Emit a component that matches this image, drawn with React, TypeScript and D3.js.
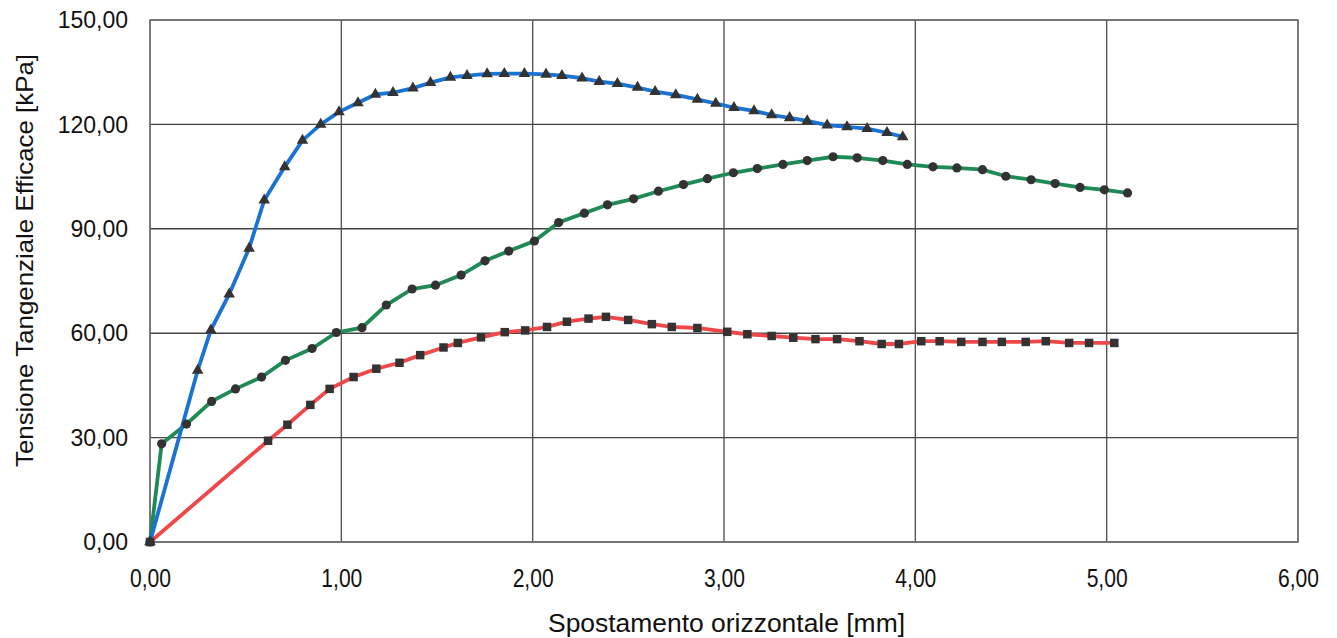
import React from "react";
import * as d3 from "d3";

const blueX = [0, 0.249, 0.318, 0.414, 0.518, 0.597, 0.704, 0.797, 0.892, 0.988, 1.087, 1.178, 1.27, 1.374, 1.466, 1.57, 1.657, 1.762, 1.852, 1.957, 2.07, 2.153, 2.258, 2.348, 2.443, 2.548, 2.64, 2.748, 2.861, 2.957, 3.052, 3.157, 3.249, 3.343, 3.435, 3.539, 3.643, 3.748, 3.852, 3.934];
const blueY = [0, 49.3, 60.9, 71.2, 84.4, 98.2, 107.8, 115.4, 120.0, 123.6, 126.2, 128.6, 129.1, 130.4, 132.0, 133.5, 134.0, 134.5, 134.6, 134.6, 134.4, 134.0, 133.3, 132.3, 131.7, 130.6, 129.4, 128.5, 127.2, 126.0, 124.8, 123.9, 122.7, 121.9, 121.0, 119.8, 119.3, 118.8, 117.6, 116.4];

const greenX = [0, 0.061, 0.191, 0.322, 0.447, 0.583, 0.708, 0.847, 0.974, 1.108, 1.235, 1.37, 1.492, 1.626, 1.751, 1.875, 2.009, 2.136, 2.27, 2.391, 2.527, 2.657, 2.788, 2.913, 3.049, 3.174, 3.308, 3.435, 3.57, 3.696, 3.83, 3.958, 4.092, 4.217, 4.351, 4.473, 4.605, 4.731, 4.861, 4.988, 5.109];
const greenY = [0, 28.2, 33.9, 40.4, 44.0, 47.4, 52.2, 55.6, 60.2, 61.6, 68.1, 72.7, 73.8, 76.7, 80.8, 83.6, 86.5, 91.8, 94.5, 96.9, 98.6, 100.8, 102.7, 104.4, 106.1, 107.3, 108.5, 109.6, 110.7, 110.4, 109.6, 108.5, 107.8, 107.5, 107.0, 105.1, 104.1, 103.0, 101.9, 101.2, 100.3];

const redX = [0, 0.617, 0.718, 0.838, 0.939, 1.064, 1.183, 1.304, 1.412, 1.534, 1.609, 1.73, 1.854, 1.961, 2.075, 2.179, 2.292, 2.383, 2.499, 2.623, 2.727, 2.861, 3.017, 3.122, 3.249, 3.362, 3.478, 3.591, 3.708, 3.824, 3.914, 4.031, 4.127, 4.24, 4.351, 4.452, 4.577, 4.682, 4.804, 4.908, 5.04];
const redY = [0, 29.1, 33.7, 39.4, 44.0, 47.4, 49.8, 51.5, 53.7, 55.9, 57.2, 58.8, 60.3, 60.8, 61.8, 63.3, 64.2, 64.7, 63.8, 62.6, 61.8, 61.5, 60.4, 59.7, 59.2, 58.7, 58.3, 58.3, 57.7, 56.9, 56.9, 57.7, 57.7, 57.5, 57.5, 57.5, 57.5, 57.7, 57.2, 57.2, 57.2];

const xTicks = [0, 1, 2, 3, 4, 5, 6];
const yTicks = [0, 30, 60, 90, 120, 150];

const fmt = (v: number) => v.toFixed(2).replace(".", ",");

export default function App() {
  const W = 1337, H = 638;
  const x = d3.scaleLinear().domain([0, 6]).range([150, 1298]);
  const y = d3.scaleLinear().domain([0, 150]).range([542, 20]);
  const line = d3.line<[number, number]>().x(d => x(d[0])).y(d => y(d[1]));
  const zip = (a: number[], b: number[]) => a.map((v, i) => [v, b[i]] as [number, number]);
  const blue = zip(blueX, blueY);
  const green = zip(greenX, greenY);
  const red = zip(redX, redY);
  const tri = d3.symbol().type(d3.symbolTriangle).size(58)();
  const sq = d3.symbol().type(d3.symbolSquare).size(72)();
  const font = "'Liberation Sans', Arial, sans-serif";
  return (
    <svg width={W} height={H} style={{ position: "absolute", left: 0, top: 0, background: "#fff" }}>
      <rect x={0} y={0} width={W} height={H} fill="#fff" />
      {xTicks.map(t => (
        <line key={"gx" + t} x1={x(t)} x2={x(t)} y1={y(0)} y2={y(150)} stroke="#555" strokeWidth={1.4} />
      ))}
      {yTicks.map(t => (
        <line key={"gy" + t} x1={x(0)} x2={x(6)} y1={y(t)} y2={y(t)} stroke="#444" strokeWidth={1.4} />
      ))}
      <rect x={x(0)} y={y(150)} width={x(6) - x(0)} height={y(0) - y(150)} fill="none" stroke="#777" strokeWidth={1.5} />
      <path d={line(red) || ""} fill="none" stroke="#f04848" strokeWidth={3.8} />
      <path d={line(green) || ""} fill="none" stroke="#1f8a55" strokeWidth={3.8} />
      <path d={line(blue) || ""} fill="none" stroke="#1a72d2" strokeWidth={3.8} />
      {red.map((d, i) => (
        <path key={"r" + i} d={sq || ""} transform={`translate(${x(d[0])},${y(d[1])})`} fill="#333" />
      ))}
      {green.map((d, i) => (
        <circle key={"g" + i} cx={x(d[0])} cy={y(d[1])} r={4.6} fill="#333" />
      ))}
      {blue.map((d, i) => (
        <path key={"b" + i} d={tri || ""} transform={`translate(${x(d[0])},${y(d[1])})`} fill="#333" />
      ))}
      {yTicks.map(t => (
        <text key={"yl" + t} x={128} y={y(t)} dy="0.36em" textAnchor="end" fontFamily={font} fontSize={23} fill="#111">{fmt(t)}</text>
      ))}
      {xTicks.map(t => (
        <text key={"xl" + t} x={x(t) - 20} y={578} dy="0.36em" textLength={41} lengthAdjust="spacingAndGlyphs" fontFamily={font} fontSize={26} fill="#111">{fmt(t)}</text>
      ))}
      <text x={548} y={632} textLength={357} lengthAdjust="spacingAndGlyphs" fontFamily={font} fontSize={25} fill="#111">Spostamento orizzontale [mm]</text>
      <text transform={`translate(33,467) rotate(-90)`} textLength={413} lengthAdjust="spacingAndGlyphs" fontFamily={font} fontSize={24} fill="#111">Tensione Tangenziale Efficace [kPa]</text>
    </svg>
  );
}
